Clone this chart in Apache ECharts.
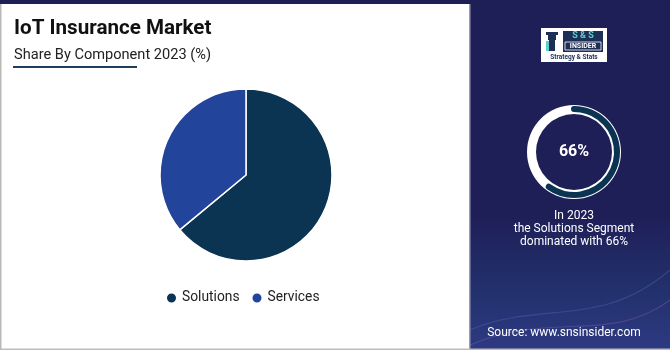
<!DOCTYPE html>
<html>
<head>
<meta charset="utf-8">
<script src="https://cdn.jsdelivr.net/npm/echarts@6/dist/echarts.min.js"></script>
<style>
html,body{margin:0;padding:0;background:#fff;}
#c{width:670px;height:350px;}
</style>
</head>
<body>
<div id="c"></div>
<script>
// ---- data ----
var categories = ['Solutions', 'Services'];
var shareValues = [64, 36];
var colors = ['#0b3352', '#22449a'];
var ringValue = 60;          // dark arc on the highlight ring (as drawn)
var ringLabel = '66%';
var titleText = 'IoT Insurance Market';
var subtitleText = 'Share By Component 2023 (%)';
var noteLines = ['In 2023', 'the Solutions Segment', 'dominated with 66%'];
var sourceText = 'Source: www.snsinsider.com';

var chart = echarts.init(document.getElementById('c'));
var FONT = 'Roboto';

var pieData = categories.map(function (c, i) {
  return { name: c, value: shareValues[i], itemStyle: { color: colors[i] } };
});

chart.setOption({
  animation: false,
  textStyle: { fontFamily: FONT },
  graphic: [
    // right panel
    { type: 'rect', z: -10, shape: { x: 469, y: 0, width: 201, height: 350 },
      style: { fill: {
        type: 'linear', x: 0, y: 0, x2: 0, y2: 1,
        colorStops: [
          { offset: 0, color: '#1f1f57' },
          { offset: 0.62, color: '#1f1f58' },
          { offset: 0.82, color: '#22306c' },
          { offset: 1, color: '#2d3a82' }
        ] } } },
    { type: 'rect', z: -9, shape: { x: 469, y: 4, width: 1.5, height: 345 }, style: { fill: '#9a9ab8' } },
    // top band
    { type: 'rect', z: -10, shape: { x: 0, y: 0, width: 470, height: 4 }, style: { fill: '#1f1f57' } },
    // left edge & bottom strip
    { type: 'rect', z: -10, shape: { x: 0, y: 4, width: 1.5, height: 346 }, style: { fill: '#b8b8b8' } },
    { type: 'rect', z: -8, shape: { x: 0, y: 348.5, width: 670, height: 1.5 }, style: { fill: '#bdbdbd' } },
    // wave hints
    { type: 'bezierCurve', z: -8, shape: { x1: 470, y1: 330, x2: 670, y2: 270, cpx1: 540, cpy1: 300, cpx2: 600, cpy2: 330 },
      style: { stroke: 'rgba(120,140,220,0.25)', lineWidth: 1.2, fill: null } },
    { type: 'bezierCurve', z: -8, shape: { x1: 470, y1: 345, x2: 670, y2: 300, cpx1: 550, cpy1: 310, cpx2: 610, cpy2: 345 },
      style: { stroke: 'rgba(180,120,200,0.25)', lineWidth: 1.2, fill: null } },
    // title
    { type: 'text', left: 14, top: 18.5, style: { text: titleText, font: 'bold 20.6px ' + FONT, fill: '#111' } },
    { type: 'text', left: 14, top: 47.5, style: { text: subtitleText, font: '14.6px ' + FONT, fill: '#222' } },
    { type: 'rect', shape: { x: 13, y: 66, width: 124, height: 2 }, style: { fill: '#1f3d5e' } },
    // logo
    { type: 'rect', shape: { x: 541, y: 28, width: 66, height: 34 }, style: { fill: '#ffffff' } },
    { type: 'rect', shape: { x: 563, y: 31, width: 40, height: 21 }, style: { fill: '#1d2f57' } },
    { type: 'text', style: { text: 'S & S', x: 583, y: 36, align: 'center', verticalAlign: 'middle', font: 'bold 9px ' + FONT, fill: '#5ed0c8' } },
    { type: 'rect', shape: { x: 565, y: 42, width: 36, height: 8 }, style: { fill: 'none', stroke: '#ffffff', lineWidth: 0.8 } },
    { type: 'text', style: { text: 'INSIDER', x: 583, y: 46.5, align: 'center', verticalAlign: 'middle', font: 'bold 7px ' + FONT, fill: '#ffffff' } },
    { type: 'text', style: { text: 'Strategy & Stats', x: 574, y: 57.5, align: 'center', verticalAlign: 'middle', font: 'bold 6.5px ' + FONT, fill: '#1d2f57' } },
    // tower icon
    { type: 'rect', shape: { x: 546, y: 32, width: 12, height: 3 }, style: { fill: '#1d2f57' } },
    { type: 'rect', shape: { x: 548, y: 35, width: 8, height: 5 }, style: { fill: '#1d2f57' } },
    { type: 'rect', shape: { x: 549, y: 40, width: 6, height: 11 }, style: { fill: '#1d2f57' } },
    { type: 'rect', shape: { x: 546, y: 41, width: 3, height: 10 }, style: { fill: '#5ed0c8' } },
    // note text
    { type: 'text', style: { text: noteLines.join('\n'), x: 574, y: 210, align: 'center', verticalAlign: 'top', lineHeight: 12.6, font: '12px ' + FONT, fill: '#ffffff' } },
    { type: 'text', style: { text: sourceText, x: 564, y: 333, align: 'center', verticalAlign: 'middle', font: '12px ' + FONT, fill: '#ffffff' } }
  ],
  legend: {
    data: categories,
    left: 160,
    top: 286,
    icon: 'circle',
    itemWidth: 11,
    itemHeight: 11,
    itemGap: 11,
    textStyle: { fontSize: 13.8, color: '#222', fontFamily: FONT }
  },
  series: [
    {
      type: 'pie',
      center: [246, 175],
      radius: [0, 86],
      startAngle: 90,
      clockwise: true,
      label: { show: false },
      labelLine: { show: false },
      itemStyle: { borderColor: '#ffffff', borderWidth: 1.5 },
      data: pieData
    },
    {
      type: 'gauge',
      center: [574, 152],
      radius: 47,
      startAngle: 90,
      endAngle: -270,
      min: 0, max: 100,
      axisLine: { lineStyle: { width: 9, color: [[1, '#ffffff']] } },
      axisTick: { show: false }, splitLine: { show: false }, axisLabel: { show: false },
      pointer: { show: false }, progress: { show: false },
      title: { show: false },
      detail: { show: false },
      data: [{ value: 0 }]
    },
    {
      type: 'gauge',
      center: [574, 152],
      radius: 46,
      startAngle: 90,
      endAngle: -270,
      min: 0, max: 100,
      axisLine: { show: false, lineStyle: { width: 6, color: [[1, 'rgba(0,0,0,0)']] } },
      progress: { show: true, width: 6, roundCap: true, itemStyle: { color: '#0b3352' } },
      axisTick: { show: false }, splitLine: { show: false }, axisLabel: { show: false },
      pointer: { show: false },
      title: { show: false },
      detail: {
        show: true, offsetCenter: [0, 0], valueAnimation: false,
        formatter: function () { return ringLabel; },
        fontFamily: FONT, fontSize: 16, fontWeight: 'bold', color: '#ffffff'
      },
      data: [{ value: ringValue }]
    }
  ]
});
</script>
</body>
</html>
